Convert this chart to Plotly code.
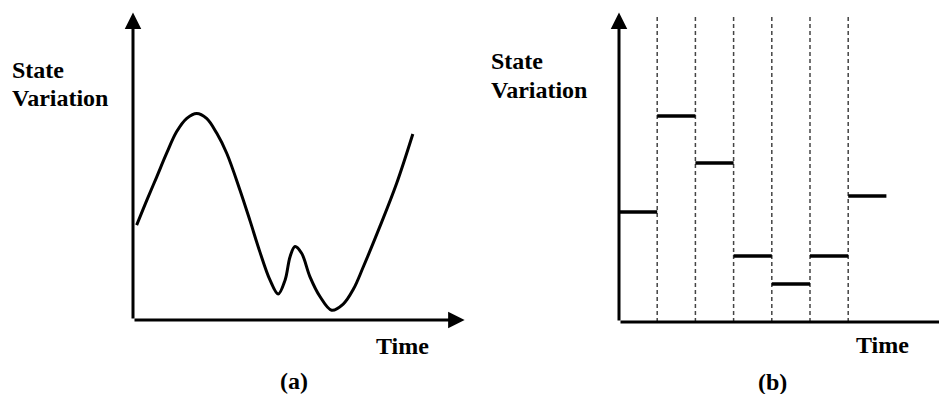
import plotly.graph_objects as go

W, H = 939, 394

# ---- Panel (a): continuous state variation ----
time_a = [0.11, 0.42, 0.72, 1.02, 1.32, 1.63, 1.93, 2.23, 2.54, 2.84,
          3.24, 3.55, 3.85, 4.15, 4.40, 4.61, 4.76, 4.91, 5.11, 5.36, 5.67,
          6.02, 6.37, 6.68, 6.98, 7.48, 7.99, 8.48]
state_a = [3.10, 3.92, 4.68, 5.45, 6.15, 6.59, 6.75, 6.59, 6.10, 5.45,
           4.25, 3.23, 2.21, 1.31, 0.85, 1.31, 2.07, 2.40, 2.18, 1.42, 0.76,
           0.32, 0.52, 1.01, 1.74, 3.05, 4.47, 6.08]

# ---- Panel (b): discretised state variation ----
step_bounds = [0, 1, 2, 3, 4, 5, 6, 7]
step_values = [3.57, 6.69, 5.16, 2.14, 1.23, 2.14, 4.09]
dash_positions = [1, 2, 3, 4, 5, 6]

ylabel = ["State", "Variation"]
xlabel = "Time"
panel_labels = ["(a)", "(b)"]

FONT = "Liberation Serif"

fig = go.Figure()

# panel a curve
fig.add_trace(go.Scatter(x=time_a, y=state_a, mode="lines",
                         line=dict(color="black", width=3, shape="spline",
                                   smoothing=1.0, simplify=False),
                         xaxis="x", yaxis="y", showlegend=False, hoverinfo="skip"))

# panel b dashed separators
dx, dy = [], []
for p in dash_positions:
    dx += [p, p, None]
    dy += [0, 10, None]
fig.add_trace(go.Scatter(x=dx, y=dy, mode="lines",
                         line=dict(color="#444", width=1.5, dash="4px,3px"),
                         xaxis="x2", yaxis="y2", showlegend=False, hoverinfo="skip"))

# panel b step segments
sx, sy = [], []
for i, v in enumerate(step_values):
    sx += [step_bounds[i], step_bounds[i + 1], None]
    sy += [v, v, None]
fig.add_trace(go.Scatter(x=sx, y=sy, mode="lines",
                         line=dict(color="black", width=3.5),
                         xaxis="x2", yaxis="y2", showlegend=False, hoverinfo="skip"))

def py(p):
    return (H - p) / H

def px(p):
    return p / W

xr_b = (W - 619) / 38.2

fig.update_layout(
    width=W, height=H, margin=dict(l=0, r=0, t=0, b=0),
    paper_bgcolor="white", plot_bgcolor="rgba(0,0,0,0)",
    xaxis=dict(domain=[px(133), px(463)], range=[0, 10], visible=False, fixedrange=True),
    yaxis=dict(domain=[py(320), py(14)], range=[0, 10], visible=False, fixedrange=True),
    xaxis2=dict(domain=[px(619), 1.0], range=[0, xr_b], visible=False, fixedrange=True),
    yaxis2=dict(domain=[py(322), py(14)], range=[0, 10], visible=False, fixedrange=True, anchor="x2"),
)

ann = []
def arrow(xref, yref, x0, y0, x1, y1):
    ann.append(dict(x=x1, y=y1, ax=x0, ay=y0, xref=xref, yref=yref,
                    axref=xref, ayref=yref, showarrow=True, arrowhead=2,
                    arrowsize=1.1, arrowwidth=3, arrowcolor="black", text="",
                    standoff=0, startstandoff=0))

# axes with arrows
arrow("x", "y", 0, 0, 10.05, 0)
arrow("x", "y", 0, 0, 0, 10.05)
arrow("x2", "y2", 0, 0, xr_b + 1.0, 0)
arrow("x2", "y2", 0, 0, 0, 10.05)

def text(t, x, y, xanchor="center", yanchor="middle"):
    ann.append(dict(text="<b>%s</b>" % t, x=x, y=y, xref="paper", yref="paper",
                    xanchor=xanchor, yanchor=yanchor, showarrow=False,
                    font=dict(family=FONT, size=24, color="black")))

text(ylabel[0], px(10), py(70), xanchor="left")
text(ylabel[1], px(10), py(98), xanchor="left")
text(xlabel, px(402.5), py(346))
text(panel_labels[0], px(294), py(381))

text(ylabel[0], px(489), py(61), xanchor="left")
text(ylabel[1], px(489), py(90), xanchor="left")
text(xlabel, px(882), py(345))
text(panel_labels[1], px(772.5), py(382))

fig.update_layout(annotations=ann)
fig.write_html("out.html")
